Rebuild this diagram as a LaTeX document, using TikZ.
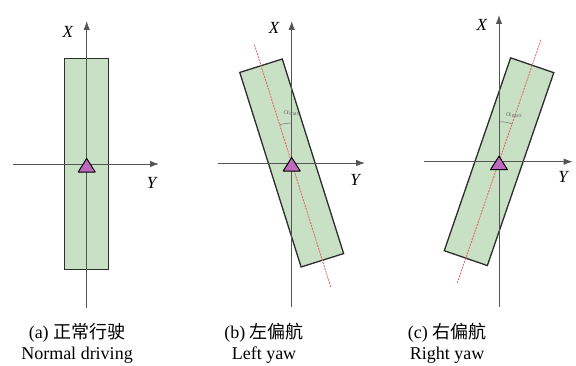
\documentclass[tikz,border=0pt]{standalone}
\usepackage{fontspec}
\setmainfont{Liberation Serif}
\newfontfamily\cjk{Noto Sans CJK SC}
\usetikzlibrary{arrows.meta}
\definecolor{rectgreen}{RGB}{200,224,196}
\definecolor{rectline}{RGB}{45,45,45}
\definecolor{axisgray}{RGB}{85,85,85}
\definecolor{trifill}{RGB}{190,105,190}
\definecolor{reddash}{RGB}{232,96,96}
\definecolor{anglegray}{RGB}{110,110,110}
\tikzset{
  axisline/.style={draw=axisgray, line width=0.9pt},
  axisarrow/.style={axisline, -{Latex[length=9pt,width=6.5pt]}},
  carbox/.style={draw=rectline, fill=rectgreen, line width=1.3pt},
  marker/.style={draw=black, fill=trifill, line width=1pt, line join=round},
  centerline/.style={draw=reddash, dash pattern=on 2pt off 1pt, line width=0.8pt},
  axislabel/.style={font=\fontsize{17}{20}\selectfont\itshape},
  anglelabel/.style={font=\fontsize{9}{10}\selectfont, text=anglegray},
  caption/.style={font=\fontsize{18}{21}\selectfont, align=center}
}
\begin{document}
\begin{tikzpicture}[x=1pt,y=1pt]
\useasboundingbox (0,0) rectangle (576,365);
% ---------- panel (a)
\begin{scope}[shift={(86.7,201)}]
  \draw[carbox] (-22,-105.5) rectangle (22,105.5);
  \coordinate (aL) at (-73.7,0);
  \coordinate (aR) at (72.3,0);
  \coordinate (aB) at (0,-144);
  \coordinate (aT) at (0,143);
  \draw[axisarrow] (aL) -- (aR);
  \draw[axisarrow] (aB) -- (aT);
  \draw[marker] (0,5.5) -- (-8.5,-8) -- (8.5,-8) -- cycle;
  \node[axislabel] (aX) at (-19,132) {X};
  \node[axislabel] (aY) at (65,-19) {Y};
\end{scope}
% ---------- panel (b)
\begin{scope}[shift={(291.7,202)}]
  \begin{scope}[rotate=17.5]
    \draw[carbox] (-22.3,-102) rectangle (22.3,102);
  \end{scope}
  \coordinate (bL) at (-73.7,0);
  \coordinate (bR) at (73.3,0);
  \coordinate (bB) at (0,-144);
  \coordinate (bT) at (0,142);
  \draw[axisarrow] (bL) -- (bR);
  \draw[axisarrow] (bB) -- (bT);
  \coordinate (bD1) at (107.5:124);
  \coordinate (bD2) at (-72.5:131);
  \draw[centerline] (bD1) -- (bD2);
  \draw[draw=anglegray, line width=0.5pt] (90:40) arc (90:107.5:40);
  \node[anglelabel] (bA) at (0,50) {$\alpha_{\max}$};
  \draw[marker] (0,5.5) -- (-8.5,-8) -- (8.5,-8) -- cycle;
  \node[axislabel] (bX) at (-17.7,135) {X};
  \node[axislabel] (bY) at (63.3,-17) {Y};
\end{scope}
% ---------- panel (c)
\begin{scope}[shift={(499,203.3)}]
  \begin{scope}[rotate=-19]
    \draw[carbox] (-22.8,-102) rectangle (22.8,102);
  \end{scope}
  \coordinate (cL) at (-74.7,0);
  \coordinate (cR) at (73.7,0);
  \coordinate (cB) at (0,-145);
  \coordinate (cT) at (0,146.7);
  \draw[axisarrow] (cL) -- (cR);
  \draw[axisarrow] (cB) -- (cT);
  \coordinate (cD1) at (71:129);
  \coordinate (cD2) at (-109:128);
  \draw[centerline] (cD1) -- (cD2);
  \draw[draw=anglegray, line width=0.5pt] (90:40) arc (90:71:40);
  \node[anglelabel] (cA) at (15,47) {$\alpha_{\max}$};
  \draw[marker] (0,5.5) -- (-8.5,-8) -- (8.5,-8) -- cycle;
  \node[axislabel] (cX) at (-17.3,137) {X};
  \node[axislabel] (cY) at (64,-15) {Y};
\end{scope}
% ---------- captions
\node[caption] (capa) at (77,22) {(a) {\cjk 正常行驶}\\Normal driving};
\node[caption] (capb) at (264,22) {(b) {\cjk 左偏航}\\Left yaw};
\node[caption] (capc) at (447,22) {(c) {\cjk 右偏航}\\Right yaw};
\end{tikzpicture}
\end{document}
